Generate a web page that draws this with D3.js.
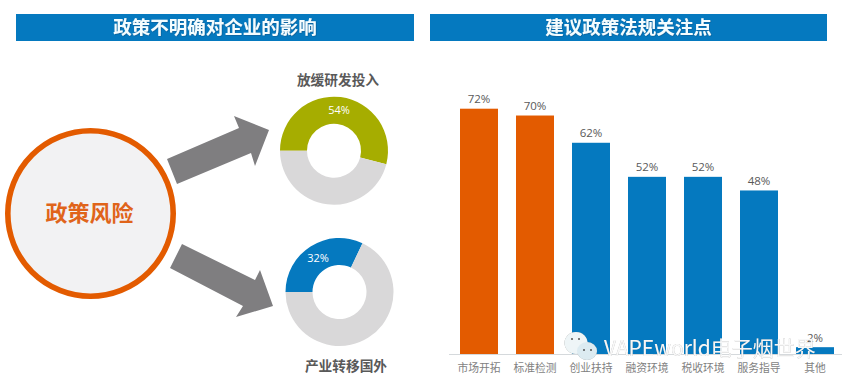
<!DOCTYPE html>
<html>
<head>
<meta charset="utf-8">
<script src="https://cdn.jsdelivr.net/npm/d3@7/dist/d3.min.js"></script>
<style>
html,body{margin:0;padding:0;background:#fff;overflow:hidden}
svg{display:block}
text{font-family:"Noto Sans CJK SC","Noto Sans",sans-serif}
.num{font-family:"Open Sans","Noto Sans",sans-serif}
</style>
</head>
<body>
<svg id="c" width="844" height="386"></svg>
<script>
const panelTitles = ["政策不明确对企业的影响", "建议政策法规关注点"];
const centerLabel = "政策风险";
const donutLabels = ["放缓研发投入", "产业转移国外"];
const donutValues = [54, 32];
const categories = ["市场开拓", "标准检测", "创业扶持", "融资环境", "税收环境", "服务指导", "其他"];
const barValues = [72, 70, 62, 52, 52, 48, 2];
const highlighted = ["市场开拓", "标准检测"];
const watermark = "VAPEworld电子烟世界";

const BLUE = "#0579bf", ORANGE = "#e35b00", GREEN = "#a6ad00", RING = "#d9d8d9", ARROW = "#7f7e80";
const svg = d3.select("#c");

const defs = svg.append("defs");
const glow = defs.append("filter").attr("id", "glow").attr("x", "-10%").attr("y", "-30%").attr("width", "120%").attr("height", "160%");
glow.append("feDropShadow").attr("dx", 0.6).attr("dy", 0.6).attr("stdDeviation", 0.5).attr("flood-color", "#0a4f80").attr("flood-opacity", 0.7);
const wm = defs.append("filter").attr("id", "wm").attr("x", "-5%").attr("y", "-20%").attr("width", "110%").attr("height", "140%");
wm.append("feDropShadow").attr("dx", 0).attr("dy", 0).attr("stdDeviation", 0.7).attr("flood-color", "#555").attr("flood-opacity", 0.9);

// Panel header bands
const headers = [{x: 16, w: 398}, {x: 430, w: 397}];
const headerG = svg.selectAll("g.h").data(panelTitles).join("g").attr("class", "h");
headerG.append("rect")
  .attr("x", (d, i) => headers[i].x).attr("y", 14)
  .attr("width", (d, i) => headers[i].w).attr("height", 27).attr("fill", BLUE);
headerG.append("text")
  .attr("x", (d, i) => headers[i].x + headers[i].w / 2).attr("y", 34)
  .attr("text-anchor", "middle").attr("font-size", 18.5).attr("font-weight", 700)
  .attr("fill", "#f4fdff").attr("filter", "url(#glow)").text(d => d);

// Central circle
svg.append("circle").attr("cx", 90.5).attr("cy", 213.5).attr("r", 82.7)
  .attr("fill", "#f2f2f3").attr("stroke", ORANGE).attr("stroke-width", 5.6);
svg.append("text").attr("x", 89.5).attr("y", 220.5).attr("text-anchor", "middle")
  .attr("font-size", 22).attr("font-weight", 700).attr("fill", "#e0641a").text(centerLabel);

// Arrows
const arrows = [
  [[167,159],[239,128],[234,116],[269,130],[255,166],[251,153],[177,184]],
  [[182,244],[255,280],[260,270],[273,306],[236,317],[243,306],[170,268]]
];
const lineGen = d3.line().curve(d3.curveLinearClosed);
svg.selectAll("path.arrow").data(arrows).join("path").attr("class", "arrow")
  .attr("d", lineGen).attr("fill", ARROW);

// Donuts
const donutPos = [{cx: 334, cy: 150.7, color: GREEN, lx: 338, ly: 85, px: 339, py: 114},
                  {cx: 339.5, cy: 292, color: BLUE, lx: 346, ly: 371, px: 318, py: 262}];
const startAngle = -Math.PI / 2;
const pie = d3.pie().sort(null).startAngle(startAngle).endAngle(startAngle + 2 * Math.PI);
const arc = d3.arc().innerRadius(27).outerRadius(54);
donutValues.forEach((v, i) => {
  const p = donutPos[i];
  const g = svg.append("g").attr("transform", `translate(${p.cx},${p.cy})`);
  g.selectAll("path").data(pie([v, 100 - v])).join("path")
    .attr("d", arc).attr("fill", (d, j) => j === 0 ? p.color : RING);
  svg.append("text").attr("class", "num").attr("x", p.px).attr("y", p.py).attr("text-anchor", "middle")
    .attr("font-size", 11).attr("fill", "#fff").text(v + "%");
  svg.append("text").attr("x", p.lx).attr("y", p.ly).attr("text-anchor", "middle")
    .attr("font-size", 13.7).attr("font-weight", 700).attr("fill", "#595959").text(donutLabels[i]);
});

// Bars
const x = d3.scaleBand().domain(categories).range([451.5, 842.5]).paddingInner(18 / 56).paddingOuter(8.5 / 56);
const y = d3.scaleLinear().domain([0, 72]).range([354, 108.7]);
svg.selectAll("rect.bar").data(categories).join("rect").attr("class", "bar")
  .attr("x", d => x(d)).attr("width", x.bandwidth())
  .attr("y", (d, i) => y(barValues[i])).attr("height", (d, i) => 354 - y(barValues[i]))
  .attr("fill", d => highlighted.includes(d) ? ORANGE : BLUE);

svg.append("line").attr("x1", 449).attr("x2", 842).attr("y1", 354.5).attr("y2", 354.5)
  .attr("stroke", "#d5d9dc").attr("stroke-width", 1);

svg.selectAll("text.val").data(categories).join("text").attr("class", "val num")
  .attr("x", d => x(d) + x.bandwidth() / 2).attr("y", (d, i) => y(barValues[i]) - 5.5)
  .attr("text-anchor", "middle").attr("font-size", 11.5).attr("fill", "#595959")
  .text((d, i) => barValues[i] + "%");

svg.selectAll("text.cat").data(categories).join("text").attr("class", "cat")
  .attr("x", d => x(d) + x.bandwidth() / 2).attr("y", 372)
  .attr("text-anchor", "middle").attr("font-size", 10.8).attr("fill", "#7f7f7f").text(d => d);

// Watermark
const wg = svg.append("g").attr("filter", "url(#wm)");
wg.append("ellipse").attr("cx", 576).attr("cy", 343).attr("rx", 11.5).attr("ry", 11).attr("fill", "#eef5f7");
wg.append("ellipse").attr("cx", 587).attr("cy", 351).attr("rx", 10).attr("ry", 9).attr("fill", "#dcebf1");
[[572,339],[579,339],[584,350],[591,350]].forEach(e =>
  svg.append("circle").attr("cx", e[0]).attr("cy", e[1]).attr("r", 1).attr("fill", "#555"));
svg.append("text").attr("x", 604).attr("y", 356).attr("font-size", 21)
  .attr("fill", "#fff").attr("fill-opacity", 0.92).attr("filter", "url(#wm)").text(watermark);
</script>
</body>
</html>
